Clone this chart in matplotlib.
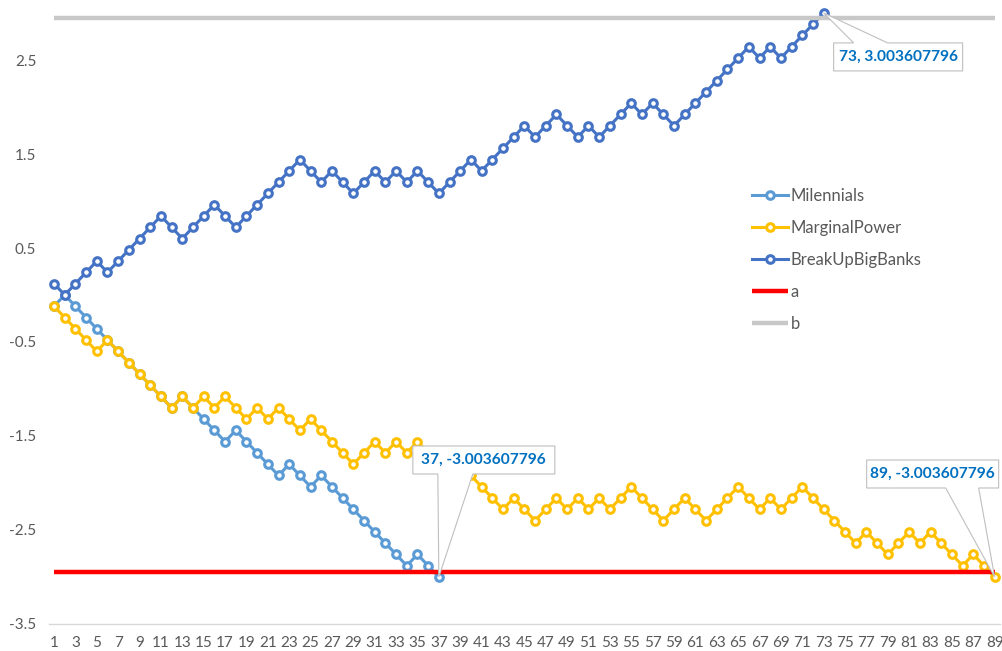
import matplotlib
matplotlib.use("Agg")
import matplotlib.pyplot as plt
from matplotlib.patches import Polygon
from matplotlib.transforms import IdentityTransform

# ---- data -----------------------------------------------------------------
categories = list(range(1, 90))

milennials = [
    -0.1201, 0.0, -0.1201, -0.2403, -0.3604, -0.4806, -0.6007, -0.7209, -0.8410, -0.9612,
    -1.0813, -1.2014, -1.0813, -1.2014, -1.3216, -1.4417, -1.5619, -1.4417, -1.5619, -1.6820,
    -1.8022, -1.9223, -1.8022, -1.9223, -2.0425, -1.9223, -2.0425, -2.1626, -2.2827, -2.4029,
    -2.5230, -2.6432, -2.7633, -2.8835, -2.7633, -2.8835, -3.003607796,
]

marginal_power = [
    -0.1201, -0.2403, -0.3604, -0.4806, -0.6007, -0.4806, -0.6007, -0.7209, -0.8410, -0.9612,
    -1.0813, -1.2014, -1.0813, -1.2014, -1.0813, -1.2014, -1.0813, -1.2014, -1.3216, -1.2014,
    -1.3216, -1.2014, -1.3216, -1.4417, -1.3216, -1.4417, -1.5619, -1.6820, -1.8022, -1.6820,
    -1.5619, -1.6820, -1.5619, -1.6820, -1.5619, -1.6820, -1.8022, -1.6820, -1.8022, -1.9223,
    -2.0425, -2.1626, -2.2827, -2.1626, -2.2827, -2.4029, -2.2827, -2.1626, -2.2827, -2.1626,
    -2.2827, -2.1626, -2.2827, -2.1626, -2.0425, -2.1626, -2.2827, -2.4029, -2.2827, -2.1626,
    -2.2827, -2.4029, -2.2827, -2.1626, -2.0425, -2.1626, -2.2827, -2.1626, -2.2827, -2.1626,
    -2.0425, -2.1626, -2.2827, -2.4029, -2.5230, -2.6432, -2.5230, -2.6432, -2.7633, -2.6432,
    -2.5230, -2.6432, -2.5230, -2.6432, -2.7633, -2.8835, -2.7633, -2.8835, -3.003607796,
]

break_up_big_banks = [
    0.1201, 0.0, 0.1201, 0.2403, 0.3604, 0.2403, 0.3604, 0.4806, 0.6007, 0.7209,
    0.8410, 0.7209, 0.6007, 0.7209, 0.8410, 0.9612, 0.8410, 0.7209, 0.8410, 0.9612,
    1.0813, 1.2014, 1.3216, 1.4417, 1.3216, 1.2014, 1.3216, 1.2014, 1.0813, 1.2014,
    1.3216, 1.2014, 1.3216, 1.2014, 1.3216, 1.2014, 1.0813, 1.2014, 1.3216, 1.4417,
    1.3216, 1.4417, 1.5619, 1.6820, 1.8022, 1.6820, 1.8022, 1.9223, 1.8022, 1.6820,
    1.8022, 1.6820, 1.8022, 1.9223, 2.0425, 1.9223, 2.0425, 1.9223, 1.8022, 1.9223,
    2.0425, 2.1626, 2.2827, 2.4029, 2.5230, 2.6432, 2.5230, 2.6432, 2.5230, 2.6432,
    2.7633, 2.8835, 3.003607796,
]

a_level = -2.95
b_level = 2.95
a_series = [a_level] * len(categories)
b_series = [b_level] * len(categories)

y_ticks = [-3.5, -2.5, -1.5, -0.5, 0.5, 1.5, 2.5]

# ---- figure ---------------------------------------------------------------
W, H = 1002, 651
plt.rcParams["font.family"] = ["Lato", "DejaVu Sans"]
fig = plt.figure(figsize=(W / 100, H / 100), dpi=100)
fig.patch.set_facecolor("white")

ax_left, ax_right = 48.7, 1000.0
ax_top, ax_bottom = 2.0, 623.6
ax = fig.add_axes([ax_left / W, (H - ax_bottom) / H,
                   (ax_right - ax_left) / W, (ax_bottom - ax_top) / H])
ax.set_xlim(0.5, 89.5)
ax.set_ylim(-3.5, 3.12)

marker_kw = dict(marker="o", markersize=5.5, markeredgewidth=2.2,
                 markerfacecolor="white", linewidth=2.2, clip_on=False)

series = [
    ("Milennials", milennials, "#5B9BD5"),
    ("MarginalPower", marginal_power, "#FFC000"),
    ("BreakUpBigBanks", break_up_big_banks, "#4472C4"),
]
handles = []
for name, vals, color in series:
    xs = categories[:len(vals)]
    (ln,) = ax.plot(xs, vals, color=color, markeredgecolor=color, label=name,
                    **marker_kw)
    handles.append(ln)

(ln_a,) = ax.plot(categories, a_series, color="#FF0000", linewidth=3.2,
                  label="a", solid_capstyle="butt")
(ln_b,) = ax.plot(categories, b_series, color="#C8C8C8", linewidth=3.2,
                  label="b", solid_capstyle="butt")
handles += [ln_a, ln_b]

# axes styling
for side in ("left", "right", "top"):
    ax.spines[side].set_visible(False)
ax.spines["bottom"].set_color("#D9D9D9")
ax.spines["bottom"].set_linewidth(1.0)

ax.set_yticks(y_ticks)
ax.set_yticklabels([f"{t:.1f}" for t in y_ticks])
ax.set_xticks(categories[::2])
ax.set_xticklabels([str(c) for c in categories[::2]])
ax.tick_params(axis="both", length=0, labelsize=11, labelcolor="#595959")
ax.tick_params(axis="y", pad=9)
ax.tick_params(axis="x", pad=9)

# legend
leg = ax.legend(handles=handles, loc="upper left",
                bbox_to_anchor=(752 / W, 1 - 188 / H),
                bbox_transform=fig.transFigure, frameon=False,
                borderpad=0, borderaxespad=0, numpoints=1,
                handlelength=2.15, handletextpad=0.18, labelspacing=0.96,
                fontsize=12)
for t in leg.get_texts():
    t.set_color("#595959")


# ---- value callouts -------------------------------------------------------
def to_img(x, y):
    dx, dy = ax.transData.transform((x, y))
    return dx, H - dy


def callout(idx, vals, box, base, side):
    """box = (x0, y0, x1, y1) and base = (b0, b1), offsets in pixels
    relative to the data point (image orientation, y downward)."""
    px, py = to_img(categories[idx], vals[idx])
    x0, y0, x1, y1 = px + box[0], py + box[1], px + box[2], py + box[3]
    b0, b1 = px + base[0], px + base[1]
    if side == "bottom":
        pts = [(x0, y0), (x1, y0), (x1, y1), (b1, y1), (px, py), (b0, y1), (x0, y1)]
    else:
        pts = [(x0, y0), (b0, y0), (px, py), (b1, y0), (x1, y0), (x1, y1), (x0, y1)]
    pts = [(x, H - y) for x, y in pts]
    poly = Polygon(pts, closed=True, facecolor="white", edgecolor="#BFBFBF",
                   linewidth=0.8, transform=IdentityTransform(), zorder=10)
    fig.add_artist(poly)
    label = f"{categories[idx]}, {vals[idx]:.9f}"
    fig.text((x0 + x1) / 2, H - (y0 + y1) / 2, label,
             transform=IdentityTransform(), ha="center", va="center",
             fontsize=11.2, fontweight="bold", color="#0070C0", zorder=11)


callout(len(milennials) - 1, milennials, (-26, -131, 116, -103), (-1, 34), "bottom")
callout(len(break_up_big_banks) - 1, break_up_big_banks, (10, 30, 139, 58), (30, 64), "top")
callout(len(marginal_power) - 1, marginal_power, (-128, -117, 4, -89), (-49, -16), "bottom")

fig.savefig("out.png", dpi=100, facecolor="white")
